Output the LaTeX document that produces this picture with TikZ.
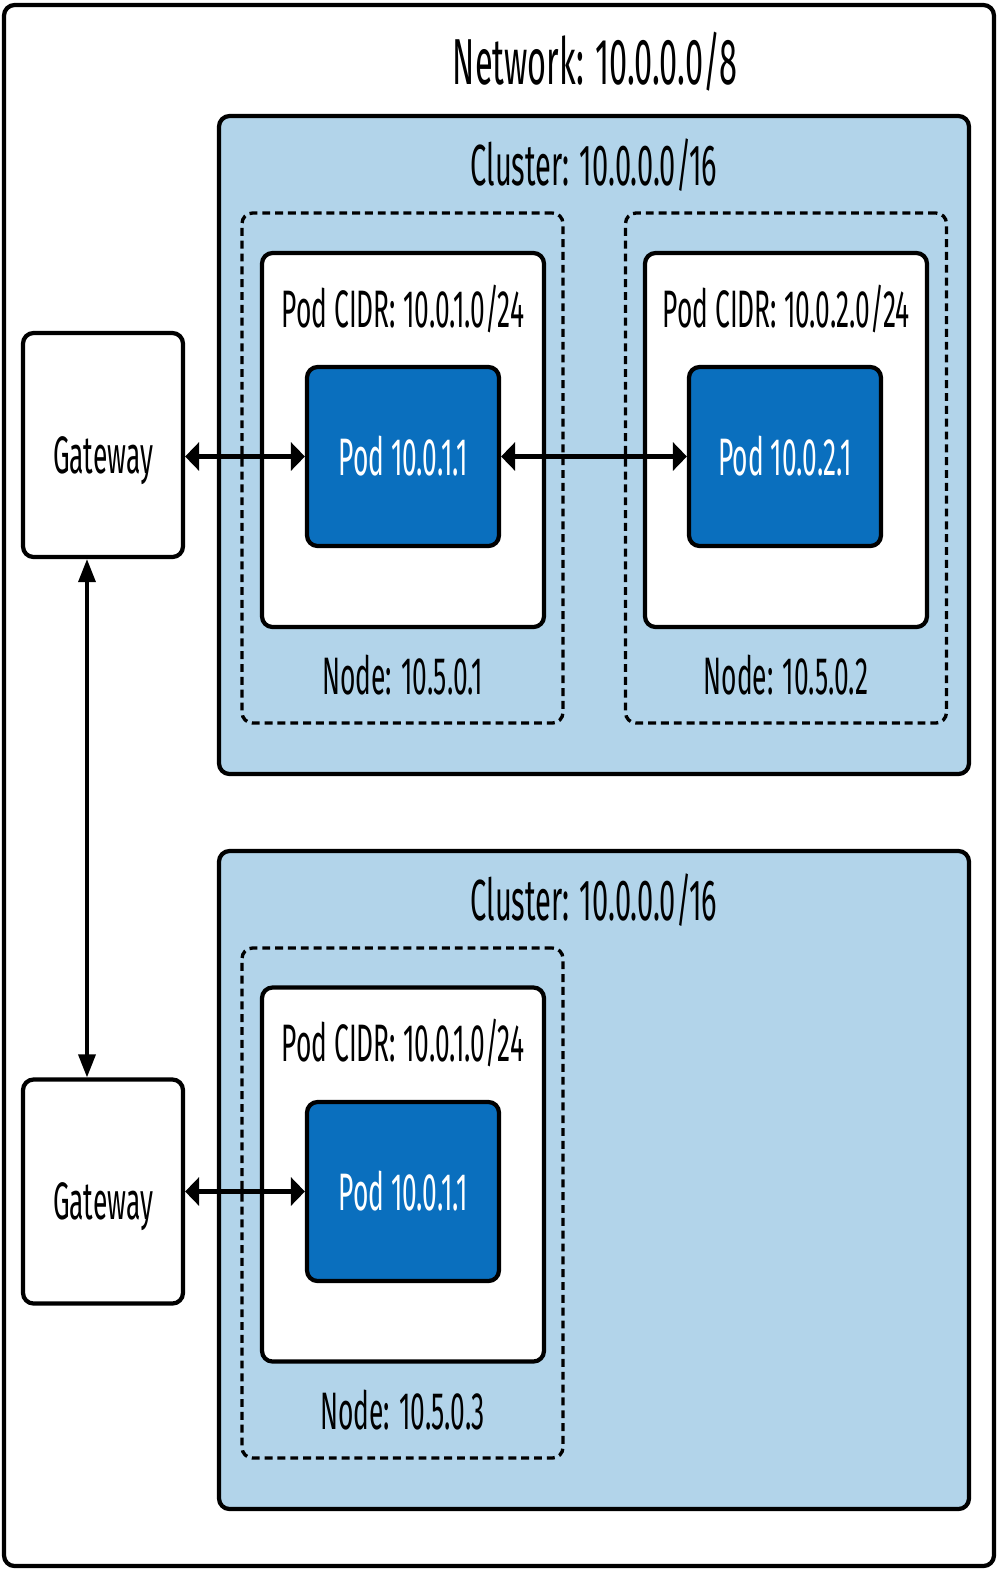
\documentclass[tikz,border=0pt]{standalone}
\usepackage{fontspec}
\setmainfont[FakeStretch=0.5]{Fira Sans}
\usetikzlibrary{positioning,arrows.meta}
\definecolor{bleuCluster}{RGB}{178,212,234}
\definecolor{bleuPod}{RGB}{10,111,190}
\newcommand{\etiq}{\fontsize{30}{34}\selectfont}
\newcommand{\moyen}{\fontsize{33}{37}\selectfont}
\newcommand{\grand}{\fontsize{37}{41}\selectfont}
\tikzset{
  pointeH/.tip={Triangle[length=0.28cm,width=0.56cm]},
  pointeV/.tip={Triangle[length=0.46cm,width=0.34cm]},
  cadre/.style={draw, line width=2.4pt, rounded corners=6pt},
  cluster/.style={cadre, fill=bleuCluster, minimum width=15cm, minimum height=13.16cm},
  noeud/.style={draw, line width=1.9pt, dash pattern=on 4.5pt off 2.8pt, rounded corners=6pt,
    minimum width=6.42cm, minimum height=10.2cm},
  cidr/.style={cadre, fill=white, minimum width=5.64cm, minimum height=7.48cm},
  pod/.style={cadre, fill=bleuPod, text=white, minimum width=3.84cm, minimum height=3.58cm, font=\etiq},
  passerelle/.style={cadre, fill=white, minimum width=3.2cm, minimum height=4.48cm, font=\etiq,
    text height=1.12cm, text depth=0pt},
  titre/.style={font=\moyen, inner sep=0pt},
  etiquette/.style={font=\etiq, inner sep=0pt},
  flecheH/.style={pointeH-pointeH, line width=3pt},
  flecheV/.style={pointeV-pointeV, line width=2pt},
}
\begin{document}
\begin{tikzpicture}
  \useasboundingbox (0,0) rectangle (19.96,-31.42);
  % réseau
  \node[cadre, minimum width=19.8cm, minimum height=31.22cm] (reseau) at (9.98,-15.71) {};
  \node[titre, font=\grand] (tReseau) at (11.9,-1.24) {Network: 10.0.0.0/8};
  % clusters
  \node[cluster] (cl1) at (11.88,-8.90) {};
  \node[cluster] (cl2) at (11.88,-23.60) {};
  \node[titre] (tCl1) at ([yshift=-1.02cm]cl1.north) {Cluster: 10.0.0.0/16};
  \node[titre] (tCl2) at ([yshift=-1.02cm]cl2.north) {Cluster: 10.0.0.0/16};
  % noeuds (pointillés)
  \node[noeud] (n1) at (8.05,-9.36) {};
  \node[noeud] (n2) at (15.72,-9.36) {};
  \node[noeud] (n3) at (8.05,-24.06) {};
  \node[etiquette] (tn1) at ([yshift=1.0cm]n1.south) {Node: 10.5.0.1};
  \node[etiquette] (tn2) at ([yshift=1.0cm]n2.south) {Node: 10.5.0.2};
  \node[etiquette] (tn3) at ([yshift=1.0cm]n3.south) {Node: 10.5.0.3};
  % plages des pods
  \node[cidr] (c1) at (8.06,-8.80) {};
  \node[cidr] (c2) at (15.72,-8.80) {};
  \node[cidr] (c3) at (8.06,-23.49) {};
  \node[etiquette] (tc1) at ([yshift=-1.16cm]c1.north) {Pod CIDR: 10.0.1.0/24};
  \node[etiquette] (tc2) at ([yshift=-1.16cm]c2.north) {Pod CIDR: 10.0.2.0/24};
  \node[etiquette] (tc3) at ([yshift=-1.16cm]c3.north) {Pod CIDR: 10.0.1.0/24};
  % pods
  \node[pod] (p1) at (8.06,-9.13) {Pod 10.0.1.1};
  \node[pod] (p2) at (15.70,-9.13) {Pod 10.0.2.1};
  \node[pod] (p3) at (8.06,-23.83) {Pod 10.0.1.1};
  % passerelles
  \node[passerelle] (gw1) at (2.06,-8.90) {Gateway};
  \node[passerelle] (gw2) at (2.06,-23.83) {Gateway};
  % flèches
  \draw[flecheH] (gw1.east |- p1) -- (p1.west);
  \draw[flecheH] (p1.east) -- (p2.west);
  \draw[flecheH] (gw2.east |- p3) -- (p3.west);
  \draw[flecheV] ([xshift=-0.32cm]gw1.south) -- ([xshift=-0.32cm]gw2.north);
\end{tikzpicture}
\end{document}
